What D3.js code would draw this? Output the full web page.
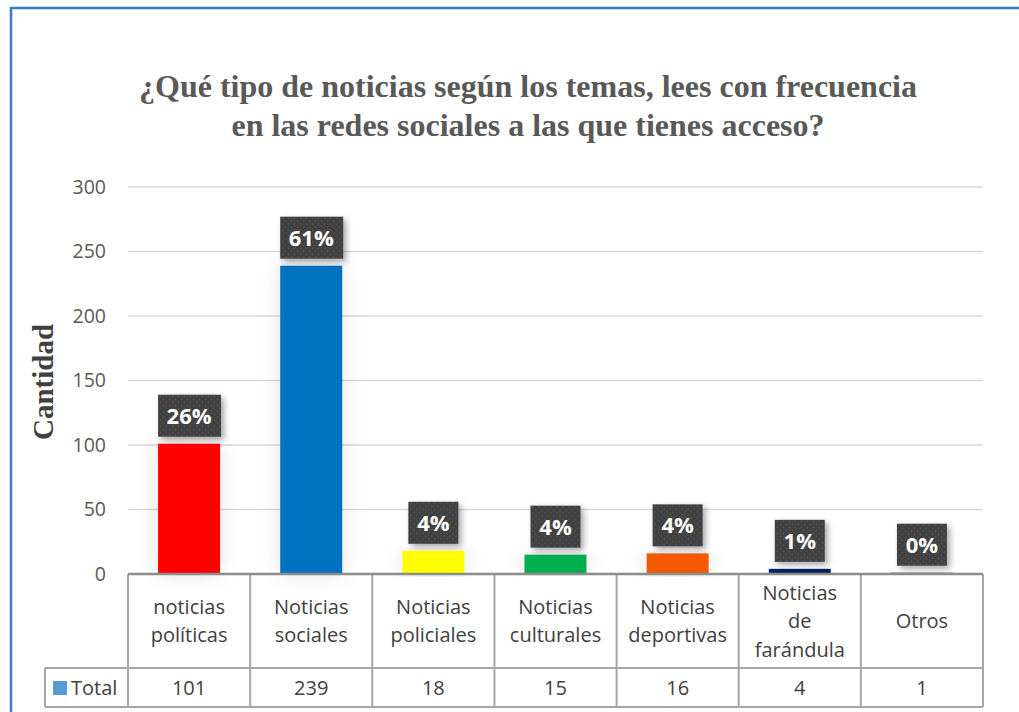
<!DOCTYPE html>
<meta charset="utf-8">
<title>Tipos de noticias</title>
<script src="https://cdn.jsdelivr.net/npm/d3@7"></script>
<style>
  body { margin: 0; background: #fff; }
  svg { display: block; }
</style>
<body>
<script>

// data
var categories = [["noticias", "políticas"], ["Noticias", "sociales"], ["Noticias", "policiales"],
                  ["Noticias", "culturales"], ["Noticias", "deportivas"], ["Noticias", "de", "farándula"], ["Otros"]];
var totals = [101, 239, 18, 15, 16, 4, 1];
var pctLabels = ["26%", "61%", "4%", "4%", "4%", "1%", "0%"];
var barColors = ["#ff0000", "#0070c0", "#ffff00", "#00b050", "#f55a00", "#002060", "#002060"];
var yTicks = [0, 50, 100, 150, 200, 250, 300];

var W = 1019, H = 712;
var plotLeft = 128, plotRight = 983, plotTop = 187, zeroY = 574;
var rowY = 668, tableBottom = 707, totalLeft = 45;
var sans = "'Open Sans', 'Liberation Sans', sans-serif";
var serif = "'Liberation Serif', 'DejaVu Serif', serif";

var svg = d3.select("body").append("svg")
    .attr("width", W)
    .attr("height", H);

var defs = svg.append("defs");
var pat = defs.append("pattern")
    .attr("id", "dots")
    .attr("width", 6).attr("height", 6)
    .attr("patternUnits", "userSpaceOnUse");
pat.append("rect").attr("width", 6).attr("height", 6).attr("fill", "#3f3f3f");
pat.append("circle").attr("cx", 1.5).attr("cy", 1.5).attr("r", 0.9).attr("fill", "#565656");
pat.append("circle").attr("cx", 4.5).attr("cy", 4.5).attr("r", 0.9).attr("fill", "#565656");

var sh = defs.append("filter").attr("id", "shadow")
    .attr("x", "-30%").attr("y", "-30%").attr("width", "170%").attr("height", "170%");
sh.append("feDropShadow").attr("dx", 3).attr("dy", 3).attr("stdDeviation", 3)
    .attr("flood-color", "#000").attr("flood-opacity", 0.35);

var glow = defs.append("filter").attr("id", "glow")
    .attr("x", "-60%").attr("y", "-10%").attr("width", "220%").attr("height", "120%");
glow.append("feDropShadow").attr("dx", 0).attr("dy", 0).attr("stdDeviation", 10)
    .attr("flood-color", "#000").attr("flood-opacity", 0.12);

// blue frame
svg.append("path")
    .attr("d", "M11," + H + "V8H" + W)
    .attr("fill", "none")
    .attr("stroke", "#3b7dc4")
    .attr("stroke-width", 2.5);

// title
svg.append("text")
    .attr("text-anchor", "middle")
    .attr("font-family", serif)
    .attr("font-weight", "bold")
    .attr("font-size", 32)
    .attr("fill", "#595959")
    .selectAll("tspan")
    .data(["¿Qué tipo de noticias según los temas, lees con frecuencia",
           "en las redes sociales a las que tienes acceso?"])
    .join("tspan")
    .attr("x", 528)
    .attr("y", function (d, i) { return 97 + i * 39; })
    .text(function (d) { return d; });

// scales
var x = d3.scaleBand()
    .domain(d3.range(totals.length))
    .range([plotLeft, plotRight])
    .paddingInner(0).paddingOuter(0);

var y = d3.scaleLinear()
    .domain([0, 300])
    .range([zeroY, plotTop]);

// gridlines
svg.append("g")
    .selectAll("line")
    .data(yTicks.slice(1))
    .join("line")
    .attr("x1", plotLeft).attr("x2", plotRight)
    .attr("y1", function (d) { return y(d); })
    .attr("y2", function (d) { return y(d); })
    .attr("stroke", "#d9d9d9")
    .attr("stroke-width", 1.3);

// y axis labels
var yAxis = d3.axisLeft(y).tickValues(yTicks).tickSize(0).tickPadding(0);
var yg = svg.append("g")
    .attr("transform", "translate(106,0)")
    .call(yAxis);
yg.select(".domain").remove();
yg.selectAll("text")
    .attr("font-family", sans)
    .attr("font-size", 19.5)
    .attr("fill", "#595959");

svg.append("text")
    .attr("transform", "translate(53,382) rotate(-90)")
    .attr("text-anchor", "middle")
    .attr("font-family", serif)
    .attr("font-weight", "bold")
    .attr("font-size", 29)
    .attr("fill", "#404040")
    .text("Cantidad");

// bars
var barW = 62;
svg.append("g")
    .selectAll("rect")
    .data(totals)
    .join("rect")
    .attr("x", function (d, i) { return x(i) + x.bandwidth() / 2 - barW / 2; })
    .attr("y", function (d) { return y(d); })
    .attr("width", barW)
    .attr("height", function (d) { return zeroY - y(d); })
    .attr("fill", function (d, i) { return barColors[i]; })
    .attr("filter", "url(#glow)");

// data table
var tg = svg.append("g")
    .attr("fill", "none")
    .attr("stroke", "#a6a6a6")
    .attr("stroke-width", 2);

tg.selectAll("line.v")
    .data(d3.range(totals.length + 1))
    .join("line")
    .attr("x1", function (i) { return i < totals.length ? x(i) : plotRight; })
    .attr("x2", function (i) { return i < totals.length ? x(i) : plotRight; })
    .attr("y1", zeroY).attr("y2", tableBottom);
tg.append("line").attr("x1", totalLeft).attr("x2", plotRight).attr("y1", rowY).attr("y2", rowY);
tg.append("line").attr("x1", totalLeft).attr("x2", plotRight).attr("y1", tableBottom).attr("y2", tableBottom);
tg.append("line").attr("x1", totalLeft).attr("x2", totalLeft).attr("y1", rowY).attr("y2", tableBottom);

// zero axis line
svg.append("line")
    .attr("x1", plotLeft).attr("x2", plotRight)
    .attr("y1", zeroY).attr("y2", zeroY)
    .attr("stroke", "#8c8c8c")
    .attr("stroke-width", 2.5);

// category labels
var catText = svg.append("g")
    .attr("font-family", sans)
    .attr("font-size", 20)
    .attr("fill", "#404040")
    .attr("text-anchor", "middle")
    .selectAll("text")
    .data(categories)
    .join("text");
catText.selectAll("tspan")
    .data(function (d, i) {
      return d.map(function (s, k) { return { s: s, k: k, n: d.length, i: i }; });
    })
    .join("tspan")
    .attr("x", function (d) { return x(d.i) + x.bandwidth() / 2; })
    .attr("y", function (d) { return (zeroY + rowY) / 2 + 7 + (d.k - (d.n - 1) / 2) * 28.5; })
    .text(function (d) { return d.s; });

// values row
svg.append("g")
    .attr("font-family", sans)
    .attr("font-size", 20)
    .attr("fill", "#404040")
    .attr("text-anchor", "middle")
    .selectAll("text")
    .data(totals)
    .join("text")
    .attr("x", function (d, i) { return x(i) + x.bandwidth() / 2; })
    .attr("y", (rowY + tableBottom) / 2 + 7)
    .text(function (d) { return d; });

svg.append("rect")
    .attr("x", 53).attr("y", 681)
    .attr("width", 14).attr("height", 14)
    .attr("fill", "#5b9bd5");
svg.append("text")
    .attr("x", 71).attr("y", (rowY + tableBottom) / 2 + 7)
    .attr("font-family", sans)
    .attr("font-size", 20)
    .attr("fill", "#404040")
    .text("Total");

// percentage labels
var lab = svg.append("g")
    .selectAll("g")
    .data(totals)
    .join("g")
    .attr("transform", function (d, i) {
      return "translate(" + (x(i) + x.bandwidth() / 2) + "," + (y(d) - 7) + ")";
    });
lab.append("rect")
    .attr("x", function (d, i) { return pctLabels[i].length > 2 ? -31 : -25; })
    .attr("y", -42)
    .attr("width", function (d, i) { return pctLabels[i].length > 2 ? 63 : 50; })
    .attr("height", 42)
    .attr("fill", "url(#dots)")
    .attr("filter", "url(#shadow)");
lab.append("text")
    .attr("y", -13)
    .attr("text-anchor", "middle")
    .attr("font-family", sans)
    .attr("font-weight", "bold")
    .attr("font-size", 22)
    .attr("fill", "#fff")
    .text(function (d, i) { return pctLabels[i]; });

</script>
